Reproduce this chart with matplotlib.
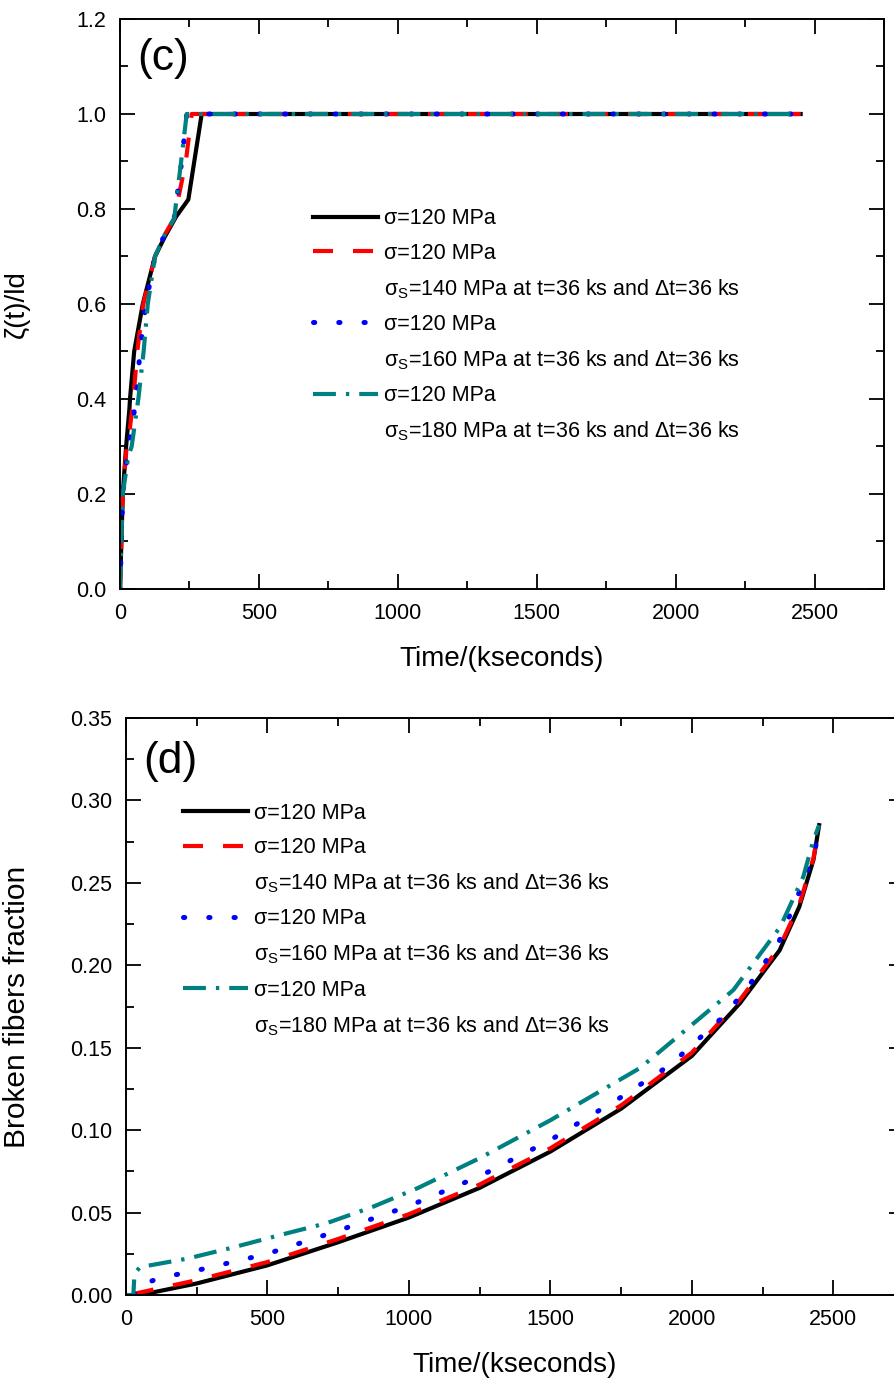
import matplotlib
matplotlib.use("Agg")
import matplotlib.pyplot as plt
from matplotlib.lines import Line2D
from matplotlib.ticker import MultipleLocator, FormatStrFormatter

plt.rcParams['font.family'] = ['Liberation Sans', 'DejaVu Sans']
plt.rcParams['mathtext.fontset'] = 'custom'
plt.rcParams['mathtext.rm'] = 'Liberation Sans'
plt.rcParams['mathtext.it'] = 'Liberation Sans:italic'

# ---------------- data: panel (c) ----------------
tc_black = [0, 5, 10, 22, 34, 36, 51, 82, 126, 160, 202, 246, 294, 2450]
yc_black = [0, 0.10, 0.20, 0.30, 0.38, 0.40, 0.50, 0.60, 0.70, 0.74, 0.784, 0.82, 1.0, 1.0]
tc_red = [0, 5, 10, 24, 36, 48, 62, 84, 126, 160, 195, 237, 258, 2450]
yc_red = [0, 0.10, 0.20, 0.30, 0.34, 0.40, 0.50, 0.60, 0.70, 0.745, 0.78, 0.90, 1.0, 1.0]
tc_blue = [0, 5, 10, 30, 40, 58, 72, 93, 126, 160, 195, 222, 240, 2450]
yc_blue = [0, 0.10, 0.20, 0.30, 0.33, 0.40, 0.50, 0.60, 0.70, 0.745, 0.78, 0.90, 1.0, 1.0]
tc_teal = [0, 5, 10, 30, 42, 66, 85, 100, 126, 160, 195, 220, 240, 2450]
yc_teal = [0, 0.10, 0.20, 0.28, 0.30, 0.40, 0.50, 0.60, 0.70, 0.745, 0.78, 0.90, 1.0, 1.0]

# ---------------- data: panel (d) ----------------
td_black = [50, 250, 500, 750, 1000, 1250, 1500, 1750, 2000, 2170, 2310, 2380, 2430, 2450]
yd_black = [0, 0.007, 0.018, 0.032, 0.047, 0.065, 0.087, 0.113, 0.145, 0.177, 0.209, 0.2355, 0.264, 0.285]
td_red = [30, 36, 250, 500, 750, 1000, 1250, 1500, 1750, 2000, 2170, 2310, 2380, 2430, 2450]
yd_red = [0, 0.001, 0.009, 0.020, 0.034, 0.049, 0.067, 0.089, 0.115, 0.147, 0.179, 0.211, 0.237, 0.265, 0.285]
td_blue = [30, 36, 50, 120, 268, 500, 750, 1000, 1250, 1500, 1750, 1923, 2112, 2195, 2306, 2383, 2436, 2450]
yd_blue = [0, 0.005, 0.006, 0.0103, 0.0156, 0.025, 0.039, 0.054, 0.072, 0.094, 0.120, 0.1395, 0.169, 0.186, 0.2135, 0.2457, 0.270, 0.285]
td_teal = [0, 26, 30, 50, 85, 215, 368, 568, 710, 874, 1033, 1250, 1500, 1817, 1994, 2147, 2313, 2394, 2430, 2450]
yd_teal = [0, 0, 0.013, 0.017, 0.018, 0.022, 0.0284, 0.0374, 0.0436, 0.0536, 0.065, 0.083, 0.106, 0.1377, 0.163, 0.185, 0.2234, 0.2537, 0.276, 0.285]

labels_main = ["σ=120 MPa", "σ=120 MPa", "σ=120 MPa", "σ=120 MPa"]
labels_sub = [None,
              "σ$_\\mathrm{S}$=140 MPa at t=36 ks and Δt=36 ks",
              "σ$_\\mathrm{S}$=160 MPa at t=36 ks and Δt=36 ks",
              "σ$_\\mathrm{S}$=180 MPa at t=36 ks and Δt=36 ks"]

colors = ['black', '#ff0000', '#0000ff', '#008080']
widths = [3.0, 3.0, 3.6, 3.0]
styles = ['-', (0, (4.8, 4.8)), (0, (0.25, 4.8)), (0, (5.5, 2.4, 0.8, 2.4))]
caps = ['butt', 'butt', 'round', 'butt']

fig = plt.figure(figsize=(8.94, 13.8), dpi=100)
ax1 = fig.add_axes([120/894, 1-589/1380, 764/894, 570/1380])
ax2 = fig.add_axes([126/894, 1-1295/1380, 778/894, 577/1380])

TICK_FS = 15.5
LEG_FS = 15.5
LABEL_FS = 20


def style_axes(ax):
    ax.tick_params(which='both', direction='in', top=True, right=True,
                   labelsize=TICK_FS, width=1.3, pad=10)
    ax.tick_params(which='major', length=11)
    ax.tick_params(which='minor', length=6)
    for s in ax.spines.values():
        s.set_linewidth(1.4)


def draw(ax, series, leg_anchor):
    handles, labels = [], []
    for i, (t, y) in enumerate(series):
        (ln,) = ax.plot(t, y, color=colors[i], lw=widths[i], linestyle=styles[i],
                        dash_capstyle=caps[i])
        handles.append(ln)
        labels.append(labels_main[i])
        if labels_sub[i] is not None:
            handles.append(Line2D([], [], color='none'))
            labels.append(labels_sub[i])
    ax.legend(handles, labels, loc='upper left', bbox_to_anchor=leg_anchor,
              frameon=False, fontsize=LEG_FS, handlelength=3.0,
              handletextpad=0.28, labelspacing=0.62, borderpad=0, borderaxespad=0)


draw(ax1, [(tc_black, yc_black), (tc_red, yc_red), (tc_blue, yc_blue), (tc_teal, yc_teal)],
     (0.2526, 0.668))
ax1.set_xlim(0, 2750)
ax1.set_ylim(0, 1.2)
ax1.xaxis.set_major_locator(MultipleLocator(500))
ax1.xaxis.set_minor_locator(MultipleLocator(250))
ax1.yaxis.set_major_locator(MultipleLocator(0.2))
ax1.yaxis.set_minor_locator(MultipleLocator(0.1))
ax1.yaxis.set_major_formatter(FormatStrFormatter('%.1f'))
style_axes(ax1)
ax1.set_xlabel("Time/(kseconds)", fontsize=LABEL_FS, labelpad=16)
ax1.set_ylabel("ζ(t)/ld", fontsize=LABEL_FS)
ax1.yaxis.set_label_coords((30 - 120) / 764, 0.5)
ax1.text(0.022, 0.93, "(c)", transform=ax1.transAxes, fontsize=32, va='center', ha='left')

draw(ax2, [(td_black, yd_black), (td_red, yd_red), (td_blue, yd_blue), (td_teal, yd_teal)],
     (0.0733, 0.853))
ax2.set_xlim(0, 2750)
ax2.set_ylim(0, 0.35)
ax2.xaxis.set_major_locator(MultipleLocator(500))
ax2.xaxis.set_minor_locator(MultipleLocator(250))
ax2.yaxis.set_major_locator(MultipleLocator(0.05))
ax2.yaxis.set_minor_locator(MultipleLocator(0.025))
ax2.yaxis.set_major_formatter(FormatStrFormatter('%.2f'))
style_axes(ax2)
ax2.set_xlabel("Time/(kseconds)", fontsize=LABEL_FS, labelpad=16)
ax2.set_ylabel("Broken fibers fraction", fontsize=21.5)
ax2.yaxis.set_label_coords((31 - 126) / 778, 0.5)
ax2.text(0.022, 0.925, "(d)", transform=ax2.transAxes, fontsize=32, va='center', ha='left')

fig.savefig("out.png", dpi=100, facecolor='white')
